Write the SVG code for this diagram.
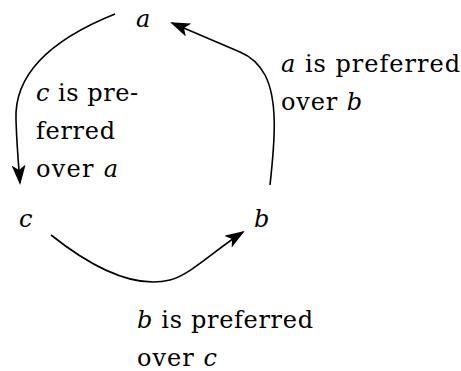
<svg xmlns="http://www.w3.org/2000/svg" width="461" height="371" viewBox="0 0 461 371">
<style>
text{font-family:"DejaVu Serif","Liberation Serif",serif;font-size:24px;fill:#000}
.m{font-style:italic}
.e{fill:none;stroke:#000;stroke-width:1.6}
</style>
<defs>
<marker id="ar" viewBox="0 0 20 14" refX="18" refY="7" markerWidth="20" markerHeight="14" markerUnits="userSpaceOnUse" orient="auto">
<path d="M0,0 L20,7 L0,14 L5,7 Z" fill="#000"/>
</marker>
</defs>
<rect width="461" height="371" fill="#fff"/>
<g id="connectors">
<path class="e" d="M115,14 C50,40 14,75 16,120 C17,150 19,170 20,183" marker-end="url(#ar)"/>
<path class="e" d="M270,185 C275,140 278,100 265,75 C259,64 252,57 240,52 L172,23" marker-end="url(#ar)"/>
<path class="e" d="M51,235 C85,262 130,290 170,280 C190,275 215,250 243,232" marker-end="url(#ar)"/>
</g>
<g id="node-a"><text class="m" x="136" y="27">a</text></g>
<g id="node-c"><text class="m" x="19" y="227">c</text></g>
<g id="node-b"><text class="m" x="254" y="227">b</text></g>
<g id="label-ca"><text x="36" y="101" textLength="102"><tspan class="m">c</tspan> is pre-</text><text x="36" y="139" textLength="79">ferred</text><text x="36" y="177" textLength="82">over <tspan class="m">a</tspan></text></g>
<g id="label-ab"><text x="281" y="72" textLength="179"><tspan class="m">a</tspan> is preferred</text><text x="281" y="110" textLength="81">over <tspan class="m">b</tspan></text></g>
<g id="label-bc"><text x="137" y="328" textLength="176"><tspan class="m">b</tspan> is preferred</text><text x="137" y="366" textLength="80">over <tspan class="m">c</tspan></text></g>
</svg>
